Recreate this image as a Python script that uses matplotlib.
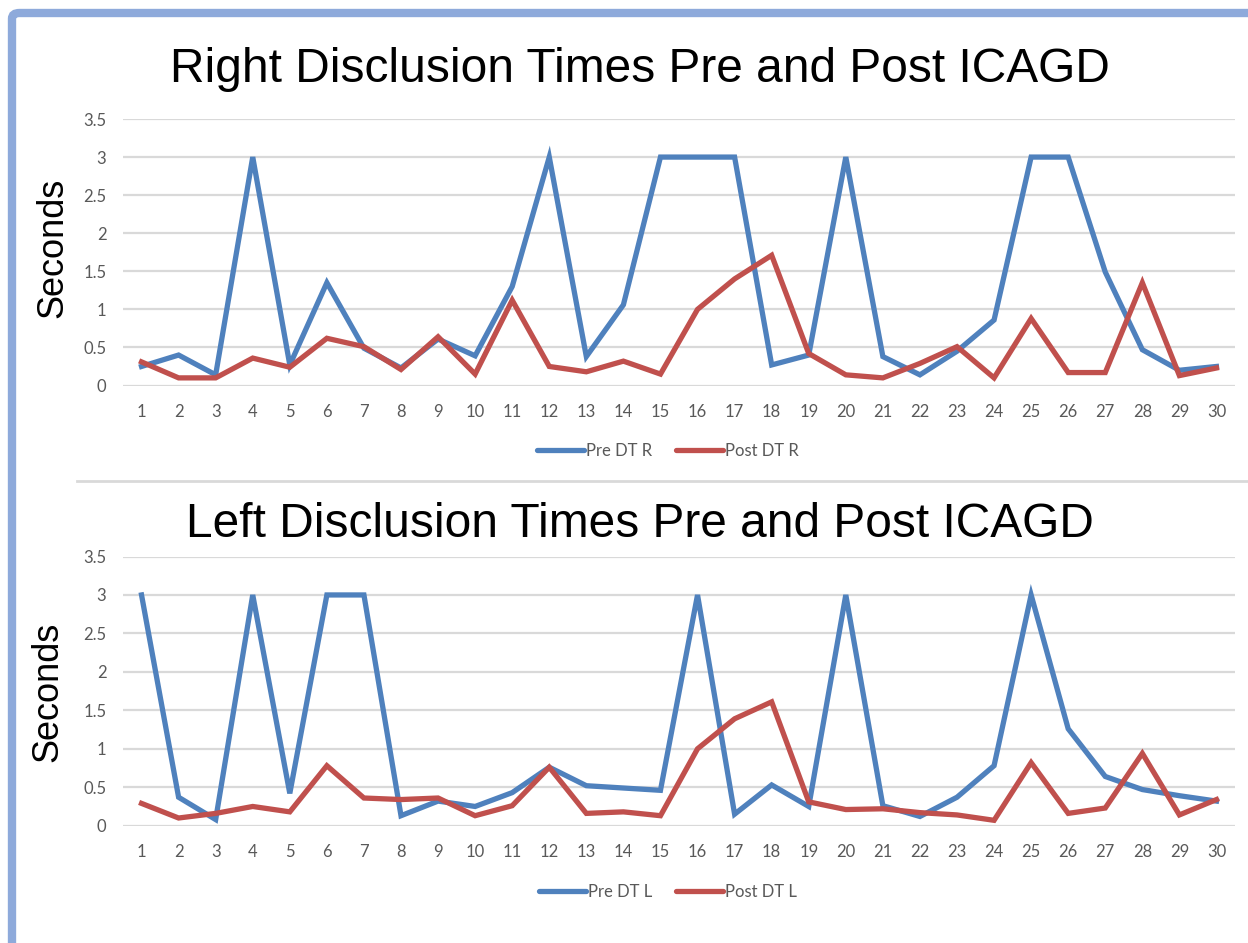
import numpy as np
import matplotlib
matplotlib.use("Agg")
import matplotlib.pyplot as plt
from matplotlib.patches import FancyBboxPatch
from matplotlib.lines import Line2D

# data
trials = list(range(1, 31))

pre_dt_r = [0.25, 0.40, 0.14, 3.0, 0.27, 1.35, 0.49, 0.23, 0.61, 0.39,
            1.30, 3.0, 0.38, 1.06, 3.0, 3.0, 3.0, 0.27, 0.40, 3.0,
            0.38, 0.14, 0.45, 0.86, 3.0, 3.0, 1.49, 0.47, 0.20, 0.25]
post_dt_r = [0.31, 0.10, 0.10, 0.36, 0.24, 0.62, 0.51, 0.21, 0.64, 0.15,
             1.12, 0.25, 0.18, 0.32, 0.15, 1.00, 1.40, 1.71, 0.42, 0.14,
             0.10, 0.29, 0.51, 0.10, 0.88, 0.17, 0.17, 1.35, 0.13, 0.23]

pre_dt_l = [3.0, 0.37, 0.08, 3.0, 0.42, 3.0, 3.0, 0.13, 0.32, 0.25,
            0.43, 0.76, 0.52, 0.49, 0.46, 3.0, 0.15, 0.53, 0.25, 3.0,
            0.26, 0.12, 0.37, 0.78, 3.0, 1.26, 0.64, 0.47, 0.39, 0.32]
post_dt_l = [0.29, 0.10, 0.16, 0.25, 0.18, 0.78, 0.36, 0.34, 0.36, 0.13,
             0.26, 0.76, 0.16, 0.18, 0.13, 1.00, 1.39, 1.61, 0.31, 0.21,
             0.22, 0.17, 0.14, 0.07, 0.82, 0.16, 0.23, 0.94, 0.14, 0.34]

yticks = [0, 0.5, 1, 1.5, 2, 2.5, 3, 3.5]
ytick_labels = ["0", "0.5", "1", "1.5", "2", "2.5", "3", "3.5"]

BLUE = "#4F81BD"
RED = "#C0504D"
GRID = "#D9D9D9"
TICK = "#595959"
W, H = 1248, 943

fig = plt.figure(figsize=(W / 100, H / 100), dpi=100)
fig.patch.set_facecolor("white")

# light blue frame on the top and left edges
frame = FancyBboxPatch((12 / W, -0.2), 1.2, (H - 13) / H + 0.2,
                       boxstyle="round,pad=0,rounding_size=0.006",
                       transform=fig.transFigure, fill=False,
                       edgecolor="#8EAADB", linewidth=6)
fig.patches.append(frame)

# thin divider between the charts
fig.add_artist(Line2D([77 / W, 1.0], [1 - 481 / H] * 2, color=GRID,
                      linewidth=2, transform=fig.transFigure))


def draw_chart(top_px, bot_px, pre, post, labels, title, title_base,
               ylab_xy, legend_y):
    ax = fig.add_axes([123 / W, 1 - bot_px / H, 1112 / W, (bot_px - top_px) / H])
    ax.set_xlim(0.5, 30.5)
    ax.set_ylim(0, 3.5)
    for y in yticks:
        ax.axhline(y, color=GRID, linewidth=1.6, zorder=0)
    l1, = ax.plot(trials, pre, color=BLUE, linewidth=3.8,
                  solid_joinstyle="miter", label=labels[0])
    l2, = ax.plot(trials, post, color=RED, linewidth=3.8,
                  solid_joinstyle="miter", label=labels[1])
    for s in ax.spines.values():
        s.set_visible(False)
    ax.set_xticks(trials)
    ax.set_yticks(yticks)
    ax.set_yticklabels(ytick_labels)
    ax.tick_params(length=0, labelsize=12, labelcolor=TICK, pad=12)
    ax.tick_params(axis="x", pad=13)
    for t in ax.get_xticklabels() + ax.get_yticklabels():
        t.set_fontfamily("Lato")
    ax.set_facecolor("none")

    fig.text(640 / W, 1 - title_base / H, title, ha="center", va="baseline",
             fontsize=34.5, family="Liberation Sans", color="black")
    fig.text(ylab_xy[0] / W, 1 - ylab_xy[1] / H, "Seconds", rotation=90,
             ha="center", va="center", fontsize=26, family="Liberation Sans")

    leg = fig.legend([l1, l2], labels, loc="center", ncol=2, frameon=False,
                     bbox_to_anchor=(668 / W, 1 - legend_y / H),
                     handlelength=2.8, handletextpad=0.15, columnspacing=1.4,
                     prop={"family": "Lato", "size": 12})
    for t in leg.get_texts():
        t.set_color(TICK)
    for h in leg.legend_handles:
        h.set_solid_capstyle("round")
    return ax


draw_chart(119, 385.5, pre_dt_r, post_dt_r, ["Pre DT R", "Post DT R"],
           "Right Disclusion Times Pre and Post ICAGD", 82, (53, 248), 451)
draw_chart(556.5, 825.7, pre_dt_l, post_dt_l, ["Pre DT L", "Post DT L"],
           "Left Disclusion Times Pre and Post ICAGD", 537, (48, 692), 892)

fig.savefig("out.png", dpi=100)
